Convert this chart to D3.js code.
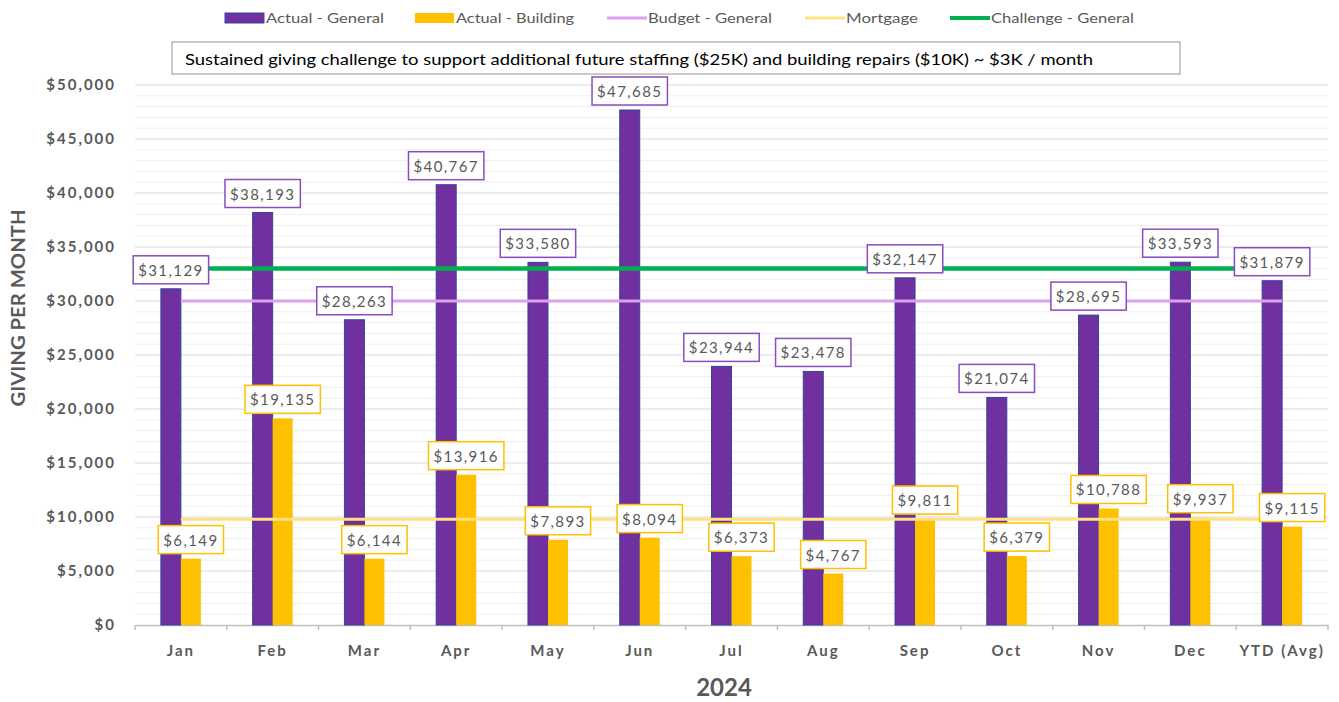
<!DOCTYPE html>
<html>
<head>
<meta charset="utf-8">
<script src="https://cdn.jsdelivr.net/npm/d3@7"></script>
<style>
  html, body { margin: 0; padding: 0; background: #fff; }
  svg { display: block; font-family: "Lato", "Open Sans", sans-serif; }
</style>
</head>
<body>
<svg id="chart" width="1339" height="702"></svg>
<script>
const categories = ["Jan","Feb","Mar","Apr","May","Jun","Jul","Aug","Sep","Oct","Nov","Dec","YTD (Avg)"];
const actualGeneral = [31129, 38193, 28263, 40767, 33580, 47685, 23944, 23478, 32147, 21074, 28695, 33593, 31879];
const actualBuilding = [6149, 19135, 6144, 13916, 7893, 8094, 6373, 4767, 9811, 6379, 10788, 9937, 9115];
const budgetGeneral = 30000;
const mortgage = 9800;
const challengeGeneral = 33000;
const yTicks = [0, 5000, 10000, 15000, 20000, 25000, 30000, 35000, 40000, 45000, 50000];
const legendItems = ["Actual - General", "Actual - Building", "Budget - General", "Mortgage", "Challenge - General"];
const annotation = "Sustained giving challenge to support additional future staffing ($25K) and building repairs ($10K)  ~ $3K / month";
const xTitle = "2024";
const yTitle = "GIVING PER MONTH";

const C = {
  purple: "#7030A0", purpleStroke: "#34449a", yellow: "#FFC000",
  budget: "#DDA0EE", mortgage: "#FFE083", challenge: "#00B050",
  text: "#595959", gridMajor: "#d9d9d9", gridMinor: "#efefef", axis: "#bfbfbf"
};

const svg = d3.select("#chart");
const L = 135, R = 1328, T = 85, B = 625;

const x = d3.scaleBand().domain(categories).range([L, R]).padding(0);
const y = d3.scaleLinear().domain([0, 50000]).range([B, T]);
const barW = 20;
const cx = c => x(c) + x.bandwidth() / 2;

// minor grid
const minor = d3.range(1000, 50001, 1000).filter(v => v % 5000 !== 0);
svg.append("g").selectAll("line").data(minor).join("line")
  .attr("x1", L).attr("x2", R).attr("y1", d => y(d)).attr("y2", d => y(d))
  .attr("stroke", C.gridMinor).attr("stroke-width", 1);
// major grid
svg.append("g").selectAll("line").data(yTicks.filter(v => v > 0)).join("line")
  .attr("x1", L).attr("x2", R).attr("y1", d => y(d)).attr("y2", d => y(d))
  .attr("stroke", C.gridMajor).attr("stroke-width", 1);

// y axis labels
const yAxis = d3.axisLeft(y).tickValues(yTicks).tickSize(0).tickPadding(19)
  .tickFormat(d => "$" + d3.format(",")(d));
const gy = svg.append("g").attr("transform", `translate(${L},0)`).call(yAxis);
gy.select(".domain").remove();
gy.selectAll("text").attr("fill", C.text).attr("font-size", 15).attr("font-weight", "bold")
  .attr("letter-spacing", 2).attr("font-family", "Lato, 'Open Sans', sans-serif");

// x axis
const xAxis = d3.axisBottom(x).tickSize(0).tickPadding(20);
const gx = svg.append("g").attr("transform", `translate(0,${B})`).call(xAxis);
gx.select(".domain").attr("stroke", C.axis).attr("stroke-width", 1.5);
gx.selectAll("text").attr("fill", C.text).attr("font-size", 15).attr("font-weight", "bold")
  .attr("letter-spacing", 2).attr("font-family", "Lato, 'Open Sans', sans-serif");
// boundary ticks
const bounds = categories.map(c => x(c)).concat([R]);
svg.append("g").selectAll("line").data(bounds).join("line")
  .attr("x1", d => d).attr("x2", d => d).attr("y1", B).attr("y2", B + 5)
  .attr("stroke", C.axis).attr("stroke-width", 1.5);

// bars
svg.append("g").selectAll("rect").data(categories).join("rect")
  .attr("x", (c) => cx(c) - barW).attr("width", barW)
  .attr("y", (c, i) => y(actualGeneral[i])).attr("height", (c, i) => B - y(actualGeneral[i]))
  .attr("fill", C.purple).attr("stroke", C.purpleStroke).attr("stroke-width", 1);
svg.append("g").selectAll("rect").data(categories).join("rect")
  .attr("x", (c) => cx(c)).attr("width", barW)
  .attr("y", (c, i) => y(actualBuilding[i])).attr("height", (c, i) => B - y(actualBuilding[i]))
  .attr("fill", C.yellow);

// reference lines
const x0 = cx(categories[0]), x1 = cx(categories[categories.length - 1]);
[[budgetGeneral, C.budget, 3], [mortgage, C.mortgage, 3], [challengeGeneral, C.challenge, 4.5]].forEach(([v, col, w]) => {
  svg.append("line").attr("x1", x0).attr("x2", x1).attr("y1", y(v)).attr("y2", y(v))
    .attr("stroke", col).attr("stroke-width", w);
});

// data labels
function label(g, px, py, text, border) {
  const t = g.append("text").attr("x", px).attr("y", py).attr("text-anchor", "middle")
    .attr("font-size", 15).attr("letter-spacing", 1.4).attr("fill", C.text).text(text);
  const bb = t.node().getBBox();
  g.insert("rect", () => t.node())
    .attr("x", px - bb.width / 2 - 5).attr("y", py - 20).attr("width", bb.width + 10).attr("height", 28)
    .attr("fill", "#fff").attr("stroke", border).attr("stroke-width", 1.5);
}
const lg = svg.append("g");
categories.forEach((c, i) => {
  label(lg.append("g"), cx(c) - barW / 2, y(actualGeneral[i]) - 13, "$" + d3.format(",")(actualGeneral[i]), "#8a4cc0");
  label(lg.append("g"), cx(c) + barW / 2, y(actualBuilding[i]) - 13, "$" + d3.format(",")(actualBuilding[i]), "#FFC000");
});

// annotation box
svg.append("rect").attr("x", 172).attr("y", 42).attr("width", 1008).attr("height", 32)
  .attr("fill", "#fff").attr("stroke", "#a6a6a6").attr("stroke-width", 1.2);
svg.append("text").attr("x", 185).attr("y", 65).attr("font-size", 15).attr("fill", "#000")
  .attr("textLength", 908).attr("lengthAdjust", "spacingAndGlyphs").text(annotation);

// legend
const legendX = [225, 415, 607, 805, 950];
const legendTextW = [118, 118, 124, 72, 143];
legendItems.forEach((name, i) => {
  const g = svg.append("g").attr("transform", `translate(${legendX[i]},18)`);
  if (i < 2) {
    g.append("rect").attr("x", 0).attr("y", -5).attr("width", 39).attr("height", 10)
      .attr("fill", i === 0 ? C.purple : C.yellow)
      .attr("stroke", i === 0 ? C.purpleStroke : "none");
  } else {
    g.append("line").attr("x1", 0).attr("x2", 40).attr("y1", 0).attr("y2", 0)
      .attr("stroke", [null, null, C.budget, C.mortgage, C.challenge][i]).attr("stroke-width", i === 4 ? 4 : 3);
  }
  g.append("text").attr("x", 41).attr("y", 5).attr("font-size", 13).attr("fill", C.text)
    .attr("textLength", legendTextW[i]).attr("lengthAdjust", "spacingAndGlyphs").text(name);
});

// axis titles
svg.append("text").attr("x", 724).attr("y", 696).attr("text-anchor", "middle")
  .attr("font-size", 24).attr("font-weight", "bold").attr("fill", C.text).text(xTitle);
svg.append("text").attr("transform", "translate(25,308) rotate(-90)").attr("text-anchor", "middle")
  .attr("font-size", 18).attr("font-weight", "bold").attr("fill", C.text)
  .attr("textLength", 197).attr("lengthAdjust", "spacingAndGlyphs").text(yTitle);
</script>
</body>
</html>
